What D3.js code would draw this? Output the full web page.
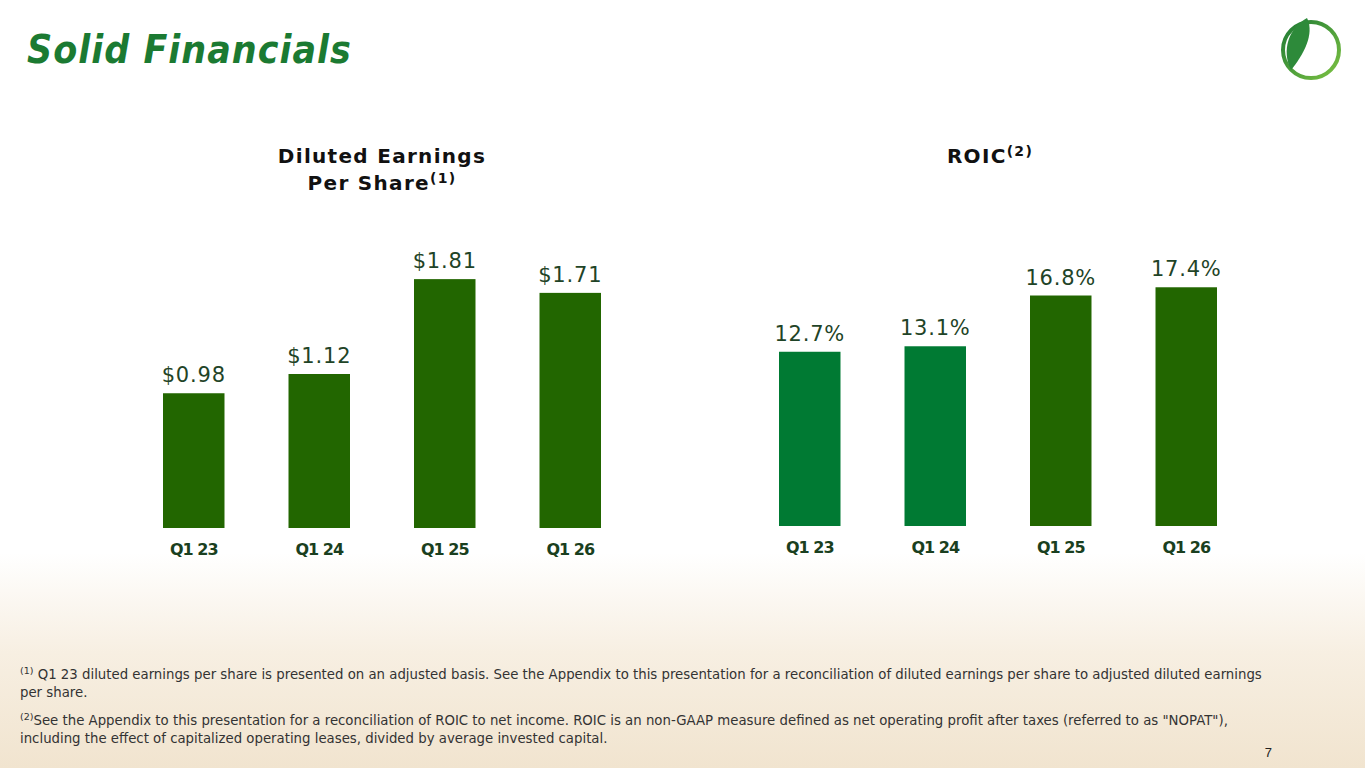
<!DOCTYPE html>
<html><head><meta charset="utf-8">
<script src="https://cdn.jsdelivr.net/npm/d3@7"></script>
<style>body{margin:0;overflow:hidden}svg{display:block}</style>
</head><body>
<svg id="mainsvg" width="1365" height="768"></svg>
<script>
var categories = ["Q1 23", "Q1 24", "Q1 25", "Q1 26"];
var epsValues = [0.98, 1.12, 1.81, 1.71];
var epsLabels = ["$0.98", "$1.12", "$1.81", "$1.71"];
var roicValues = [12.7, 13.1, 16.8, 17.4];
var roicLabels = ["12.7%", "13.1%", "16.8%", "17.4%"];
var roicColors = ["#007a33", "#007a33", "#226600", "#226600"];

var svg = d3.select("#mainsvg");
var defs = svg.append("defs");
var bg = defs.append("linearGradient").attr("id", "bg").attr("x1", 0).attr("y1", 0).attr("x2", 0).attr("y2", 1);
bg.append("stop").attr("offset", "0").attr("stop-color", "#ffffff");
bg.append("stop").attr("offset", "0.72").attr("stop-color", "#ffffff");
bg.append("stop").attr("offset", "0.85").attr("stop-color", "#f7efe2");
bg.append("stop").attr("offset", "1").attr("stop-color", "#f1e4cf");
svg.append("rect").attr("width", 1365).attr("height", 768).attr("fill", "url(#bg)");

// title
svg.append("text").attr("x", 27).attr("y", 63)
  .attr("font-family", "DejaVu Sans").attr("font-weight", "bold").attr("font-style", "italic")
  .attr("font-size", 35).attr("fill", "#1b7a32").attr("letter-spacing", 1)
  .attr("transform", "translate(27,63) scale(1,1.1) translate(-27,-63)")
  .text("Solid Financials");

// logo
var lg = defs.append("linearGradient").attr("id", "lg").attr("x1", 0).attr("y1", 0).attr("x2", 1).attr("y2", 1);
lg.append("stop").attr("offset", "0").attr("stop-color", "#1e7a34");
lg.append("stop").attr("offset", "1").attr("stop-color", "#7cc242");
var logo = svg.append("g").attr("transform", "translate(1311,50)");
logo.append("circle").attr("r", 28).attr("fill", "none").attr("stroke", "url(#lg)").attr("stroke-width", 4);
logo.append("path").attr("d", "M-20,20 C-30,0 -22,-22 -4,-32 C2,-20 -2,-2 -20,20 Z").attr("fill", "#2d8a3a");

function drawChart(cfg) {
  var x = d3.scaleBand().domain(categories).range([cfg.x0, cfg.x1]).paddingInner(0.51).paddingOuter(0.255);
  var y = d3.scaleLinear().domain([0, cfg.max]).range([cfg.base, cfg.base - cfg.max * cfg.ppu]);
  var g = svg.append("g");
  g.selectAll("rect").data(cfg.values).enter().append("rect")
    .attr("x", function (d, i) { return x(categories[i]); })
    .attr("y", function (d) { return y(d); })
    .attr("width", x.bandwidth())
    .attr("height", function (d) { return y(0) - y(d); })
    .attr("fill", function (d, i) { return cfg.colors[i]; });
  g.selectAll("text.v").data(cfg.values).enter().append("text").attr("class", "v")
    .attr("x", function (d, i) { return x(categories[i]) + x.bandwidth() / 2; })
    .attr("y", function (d) { return y(d) - 11; })
    .attr("text-anchor", "middle").attr("font-family", "DejaVu Sans").attr("font-size", 21)
    .attr("letter-spacing", 0.8).attr("fill", "#1f4427")
    .text(function (d, i) { return cfg.labels[i]; });
  var ax = g.append("g").attr("transform", "translate(0," + cfg.base + ")")
    .call(d3.axisBottom(x).tickSize(0).tickPadding(16));
  ax.select(".domain").remove();
  ax.selectAll("text").attr("font-family", "DejaVu Sans").attr("font-weight", "bold")
    .attr("font-size", 16).attr("letter-spacing", -1).attr("fill", "#1a3f20");
  var t = g.append("text").attr("text-anchor", "middle").attr("font-family", "DejaVu Sans")
    .attr("font-weight", "bold").attr("font-size", 20).attr("letter-spacing", 1.3).attr("fill", "#111");
  cfg.title.forEach(function (line, i) {
    t.append("tspan").attr("x", cfg.tx).attr("y", 163 + i * 27).text(line[0]);
    if (line[1]) t.append("tspan").attr("dy", -7).attr("font-size", 14).text(line[1]);
  });
}

drawChart({ x0: 131, x1: 633, base: 528, max: 2, ppu: 137.5, values: epsValues, labels: epsLabels,
  colors: ["#226600", "#226600", "#226600", "#226600"], tx: 382,
  title: [["Diluted Earnings"], ["Per Share", "(1)"]] });
drawChart({ x0: 747, x1: 1249, base: 526, max: 20, ppu: 13.72, values: roicValues, labels: roicLabels,
  colors: roicColors, tx: 990, title: [["ROIC", "(2)"]] });

// footnotes
var fn = svg.append("g").attr("font-family", "DejaVu Sans").attr("font-size", 13.3).attr("fill", "#333");
function note(y, sup, text) {
  var t = fn.append("text").attr("x", 20).attr("y", y);
  if (sup) t.append("tspan").attr("font-size", 9.5).attr("dy", -5).text(sup);
  t.append("tspan").attr("dy", sup ? 5 : 0).text(text);
}
note(679, "(1)", " Q1 23 diluted earnings per share is presented on an adjusted basis. See the Appendix to this presentation for a reconciliation of diluted earnings per share to adjusted diluted earnings");
note(697, null, "per share.");
note(725, "(2)", "See the Appendix to this presentation for a reconciliation of ROIC to net income. ROIC is an non-GAAP measure defined as net operating profit after taxes (referred to as \"NOPAT\"),");
note(743, null, "including the effect of capitalized operating leases, divided by average invested capital.");
svg.append("text").attr("x", 1272).attr("y", 757).attr("text-anchor", "end")
  .attr("font-family", "Liberation Sans").attr("font-size", 13).attr("fill", "#222").text("7");
</script>
</body></html>
